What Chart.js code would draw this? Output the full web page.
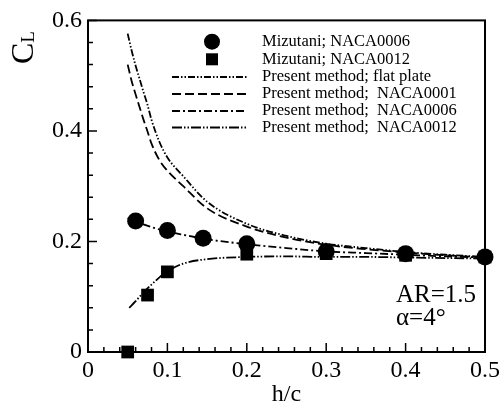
<!DOCTYPE html>
<html>
<head>
<meta charset="utf-8">
<script src="https://cdn.jsdelivr.net/npm/chart.js@4.4.1/dist/chart.umd.min.js"></script>
<style>
  html, body { margin: 0; padding: 0; background: #fff; }
  #wrap { width: 504px; height: 409px; position: relative; }
</style>
</head>
<body>
<div id="wrap"><canvas id="chart"></canvas></div>
<script>
// Values (h/c vs C_L)
const hPlate = [0.05, 0.055, 0.06, 0.065, 0.07, 0.075, 0.08, 0.09, 0.1, 0.12, 0.15, 0.2, 0.25, 0.3, 0.35, 0.4, 0.45, 0.5];
const clPlate = [0.576, 0.545, 0.518, 0.494, 0.47, 0.447, 0.42, 0.38, 0.352, 0.318, 0.272, 0.232, 0.21, 0.196, 0.188, 0.181, 0.176, 0.172];
const hN0001 = [0.05, 0.055, 0.06, 0.065, 0.07, 0.075, 0.08, 0.09, 0.1, 0.12, 0.15, 0.2, 0.25, 0.3, 0.35, 0.4, 0.45, 0.5];
const clN0001 = [0.52, 0.49, 0.466, 0.443, 0.42, 0.399, 0.377, 0.347, 0.328, 0.3, 0.26, 0.227, 0.207, 0.194, 0.186, 0.18, 0.175, 0.171];
const hN0006 = [0.05, 0.06, 0.08, 0.1, 0.12, 0.15, 0.2, 0.25, 0.3, 0.35, 0.4, 0.45, 0.5];
const clN0006 = [0.242, 0.236, 0.226, 0.218, 0.212, 0.204, 0.195, 0.188, 0.182, 0.179, 0.176, 0.173, 0.171];
const hN0012 = [0.052, 0.06, 0.07, 0.08, 0.09, 0.1, 0.12, 0.15, 0.2, 0.25, 0.3, 0.35, 0.4, 0.45, 0.5];
const clN0012 = [0.08, 0.092, 0.108, 0.122, 0.135, 0.146, 0.16, 0.168, 0.172, 0.173, 0.172, 0.172, 0.171, 0.17, 0.169];
const hMiz0006 = [0.06, 0.1, 0.145, 0.2, 0.3, 0.4, 0.5];
const clMiz0006 = [0.237, 0.22, 0.206, 0.196, 0.182, 0.178, 0.172];
const hMiz0012 = [0.05, 0.075, 0.1, 0.2, 0.3, 0.4, 0.5];
const clMiz0012 = [0, 0.103, 0.145, 0.177, 0.178, 0.175, 0.172];

const xTicks = [0, 0.1, 0.2, 0.3, 0.4, 0.5];
const yTicks = [0, 0.2, 0.4, 0.6];
const xMinorStep = 0.02;
const yMinorStep = 0.04;

const legendLabels = [
  "Mizutani; NACA0006",
  "Mizutani; NACA0012",
  "Present method; flat plate",
  "Present method;  NACA0001",
  "Present method;  NACA0006",
  "Present method;  NACA0012",
];

const SERIF = "'Liberation Serif', 'Times New Roman', serif";
const zip = (xs, ys) => xs.map((x, i) => ({ x, y: ys[i] }));
const fmt = (v) => (v === 0 ? "0" : v.toFixed(1));

// dash patterns: flat plate, NACA0001, NACA0006, NACA0012
const dashes = [
  [7, 2, 1.5, 2, 1.5, 2],
  [9, 4],
  [8, 3, 2, 3],
  [10, 2, 1.5, 2, 1.5, 2],
];

function lineSet(label, xs, ys, dash) {
  return {
    label,
    data: zip(xs, ys),
    showLine: true,
    borderColor: "#000",
    borderWidth: 1.8,
    borderDash: dash,
    pointRadius: 0,
    fill: false,
    cubicInterpolationMode: "monotone",
  };
}

// frame, inward ticks, y title, legend and note
const decor = {
  id: "decor",
  afterDatasetsDraw(chart) {
    const { ctx, chartArea: a, scales } = chart;
    const xs = scales.x, ys = scales.y;
    ctx.save();
    ctx.strokeStyle = "#000";
    ctx.lineWidth = 1.5;
    ctx.setLineDash([]);
    ctx.beginPath();
    for (let i = 0; i <= Math.round(0.5 / xMinorStep); i++) {
      const px = xs.getPixelForValue(i * xMinorStep);
      const len = i % 5 === 0 ? 9 : 5;
      ctx.moveTo(px, a.bottom);
      ctx.lineTo(px, a.bottom - len);
    }
    for (let i = 0; i <= Math.round(0.6 / yMinorStep); i++) {
      const py = ys.getPixelForValue(i * yMinorStep);
      const len = i % 5 === 0 ? 9 : 5;
      ctx.moveTo(a.left, py);
      ctx.lineTo(a.left + len, py);
    }
    ctx.stroke();

    ctx.lineWidth = 2;
    ctx.strokeRect(a.left, a.top, a.right - a.left, a.bottom - a.top);

    // y title C_L, rotated
    ctx.fillStyle = "#000";
    ctx.translate(33, 64);
    ctx.rotate(-Math.PI / 2);
    ctx.textBaseline = "alphabetic";
    ctx.textAlign = "left";
    ctx.font = "32px " + SERIF;
    ctx.fillText("C", 0, 0);
    const cw = ctx.measureText("C").width;
    ctx.font = "19px " + SERIF;
    ctx.fillText("L", cw, 1);
    ctx.setTransform(1, 0, 0, 1, 0, 0);

    // legend
    const rowY = [41.7, 59.3, 77, 94, 111, 127.5];
    ctx.textBaseline = "middle";
    ctx.font = "16.5px " + SERIF;
    legendLabels.forEach((t, i) => {
      const y = rowY[i];
      if (i === 0) {
        ctx.beginPath();
        ctx.arc(212, y, 8, 0, Math.PI * 2);
        ctx.fill();
      } else if (i === 1) {
        ctx.fillRect(206, y - 6, 12, 12);
      } else {
        ctx.beginPath();
        ctx.lineWidth = 1.8;
        ctx.setLineDash(dashes[i - 2]);
        ctx.moveTo(172, y);
        ctx.lineTo(247, y);
        ctx.stroke();
        ctx.setLineDash([]);
      }
      ctx.fillText(t, 262, y);
    });

    // case note
    ctx.textBaseline = "alphabetic";
    ctx.font = "25px " + SERIF;
    ctx.fillText("AR=1.5", 396, 302);
    ctx.fillText("\u03b1=4\u00b0", 396, 325);
    ctx.restore();
  },
};

new Chart(document.getElementById("chart"), {
  type: "scatter",
  data: {
    datasets: [
      {
        label: legendLabels[0],
        data: zip(hMiz0006, clMiz0006),
        pointStyle: "circle",
        pointRadius: 8.5,
        pointBorderWidth: 0,
        backgroundColor: "#000",
        borderColor: "#000",
        clip: false,
      },
      {
        label: legendLabels[1],
        data: zip(hMiz0012, clMiz0012),
        pointStyle: "rect",
        pointRadius: 9,
        pointBorderWidth: 0,
        backgroundColor: "#000",
        borderColor: "#000",
        clip: false,
      },
      lineSet(legendLabels[2], hPlate, clPlate, dashes[0]),
      lineSet(legendLabels[3], hN0001, clN0001, dashes[1]),
      lineSet(legendLabels[4], hN0006, clN0006, dashes[2]),
      lineSet(legendLabels[5], hN0012, clN0012, dashes[3]),
    ],
  },
  options: {
    responsive: true,
    maintainAspectRatio: false,
    animation: false,
    devicePixelRatio: 1,
    layout: { padding: { top: 18, right: 14, left: 0, bottom: 0 } },
    plugins: { legend: { display: false }, tooltip: { enabled: false } },
    scales: {
      x: {
        type: "linear",
        min: 0,
        max: 0.5,
        afterBuildTicks: (s) => { s.ticks = xTicks.map((v) => ({ value: v })); },
        afterFit: (s) => { s.height = 57; },
        ticks: {
          callback: fmt,
          color: "#000",
          font: { family: SERIF, size: 24 },
          padding: 4,
          maxRotation: 0,
          autoSkip: false,
        },
        grid: { display: false, drawTicks: false },
        border: { display: false },
        title: {
          display: true,
          text: "h/c",
          color: "#000",
          font: { family: SERIF, size: 24 },
          padding: { top: 0, bottom: 0 },
        },
      },
      y: {
        type: "linear",
        min: 0,
        max: 0.6,
        afterBuildTicks: (s) => { s.ticks = yTicks.map((v) => ({ value: v })); },
        afterFit: (s) => { s.width = 88; },
        ticks: {
          callback: fmt,
          color: "#000",
          font: { family: SERIF, size: 24 },
          padding: 6,
          autoSkip: false,
        },
        grid: { display: false, drawTicks: false },
        border: { display: false },
      },
    },
  },
  plugins: [decor],
});
</script>
</body>
</html>
